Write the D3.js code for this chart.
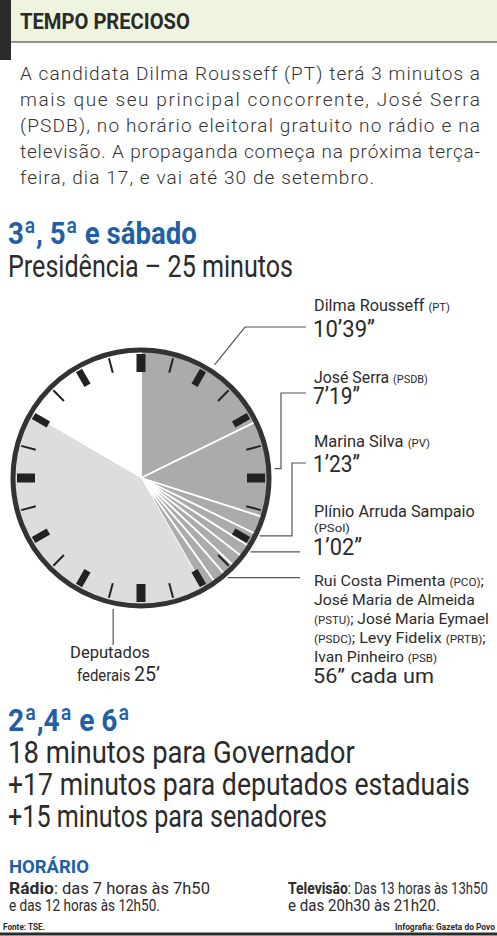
<!DOCTYPE html>
<html><head><meta charset="utf-8">
<script src="https://cdn.jsdelivr.net/npm/d3@7"></script>
<style>
body{margin:0;background:#fff;}
text{font-family:"Roboto","Noto Sans",sans-serif;}
</style></head>
<body>
<svg id="chart" width="497" height="936"></svg>
<script>
// minutes on the clock face (60 min = 3600 s)
var sliceNames = ['Dilma', 'Serra', 'Marina', 'Plínio', 'Rui', 'JoséMaria', 'Eymael', 'Levy', 'Ivan', 'Deputados', 'Livre'];
var sliceSeconds = [639, 439, 83, 62, 56, 56, 56, 56, 56, 1500, 597];
var sliceKind = ['cand', 'cand', 'cand', 'cand', 'cand', 'cand', 'cand', 'cand', 'cand', 'dep', 'free'];
var paragraph = [
  'A candidata Dilma Rousseff (PT) terá 3 minutos a',
  'mais que seu principal concorrente, José Serra',
  '(PSDB), no horário eleitoral gratuito no rádio e na',
  'televisão. A propaganda começa na próxima terça-',
  'feira, dia 17, e vai até 30 de setembro.'
];
var bottomLines = ['18 minutos para Governador', '+17 minutos para deputados estaduais', '+15 minutos para senadores'];
var bottomWidths = [347, 462, 319];

var svg = d3.select('#chart');
var blue = '#1f5fa6', dark = '#2b2b2b';

// squeeze a text horizontally to a target width (condensed look)
function fit(t, x, y, w) {
  var len = t.node().getComputedTextLength();
  t.attr('x', 0).attr('y', 0)
    .attr('transform', 'translate(' + x + ',' + y + ') scale(' + (w / len) + ',1)');
  return t;
}
function label(x, y, parts, size, w, weight, color) {
  var t = svg.append('text').attr('font-size', size).attr('fill', color || dark);
  if (weight) t.attr('font-weight', weight);
  parts.forEach(function(pt) {
    var s = t.append('tspan').text(pt[0]);
    if (pt[1]) s.attr('font-size', pt[1]);
    if (pt[2]) s.attr('font-weight', pt[2]);
  });
  return fit(t, x, y, w);
}

// header
svg.append('rect').attr('x', 0).attr('y', 0).attr('width', 497).attr('height', 42).attr('fill', '#eef4de');
svg.append('rect').attr('x', 0).attr('y', 0).attr('width', 11).attr('height', 60).attr('fill', dark);
svg.append('line').attr('x1', 11).attr('x2', 497).attr('y1', 42).attr('y2', 42).attr('stroke', dark).attr('stroke-width', 1.2);
label(20, 29, [['TEMPO PRECIOSO']], 22, 170, 'bold');

svg.append('g').selectAll('text').data(paragraph).enter().append('text')
  .attr('x', 20).attr('y', function(d, i) { return 80 + i * 26; })
  .attr('font-size', 19).attr('fill', '#333').attr('font-family', 'Open Sans').attr('font-weight', 300)
  .attr('textLength', function(d, i) { return i == 4 ? 354 : 460; })
  .text(function(d) { return d; });

label(8, 244, [['3ª, 5ª e sábado']], 32, 189, 'bold', blue);
label(8, 277, [['Presidência – 25 minutos']], 32, 285);

// clock pie
var cx = 141, cy = 478, r = 128;
var total = d3.sum(sliceSeconds);
var angle = d3.scaleLinear().domain([0, total]).range([0, 2 * Math.PI]);
var data = sliceSeconds.map(function(v, i) { return { name: sliceNames[i], value: v, kind: sliceKind[i] }; });
var pie = d3.pie().value(function(d) { return d.value; }).sort(null);
var arcs = pie(data);
var arc = d3.arc().innerRadius(0).outerRadius(r);
var fill = { cand: '#aaabad', dep: '#dcddde', free: '#ffffff' };

var g = svg.append('g').attr('transform', 'translate(' + cx + ',' + cy + ')');
g.selectAll('path.slice').data(arcs).enter().append('path')
  .attr('class', 'slice').attr('d', arc)
  .attr('fill', function(d) { return fill[d.data.kind]; })
  .attr('stroke', function(d) { return d.data.kind == 'cand' ? '#fff' : 'none'; })
  .attr('stroke-width', 1.8);

// ticks every 2.5 minutes
var ticks = d3.range(24);
function tickIn(d) { return r - (d % 6 == 0 ? 22 : d % 2 == 0 ? 21 : 19); }
g.selectAll('line.tick').data(ticks).enter().append('line')
  .attr('class', 'tick')
  .attr('x1', function(d) { return Math.sin(d * Math.PI / 12) * tickIn(d); })
  .attr('y1', function(d) { return -Math.cos(d * Math.PI / 12) * tickIn(d); })
  .attr('x2', function(d) { return Math.sin(d * Math.PI / 12) * (r - 4); })
  .attr('y2', function(d) { return -Math.cos(d * Math.PI / 12) * (r - 4); })
  .attr('stroke', '#222')
  .attr('stroke-width', function(d) { return d % 6 == 0 ? 9 : d % 2 == 0 ? 7 : 2; });

g.append('circle').attr('r', r).attr('fill', 'none').attr('stroke', '#333').attr('stroke-width', 5);

// leader lines
function edge(a, rr) { return [cx + Math.sin(a) * rr, cy - Math.cos(a) * rr]; }
function leader(pts) {
  svg.append('path').attr('d', d3.line()(pts)).attr('fill', 'none').attr('stroke', '#555').attr('stroke-width', 1.2);
}
var p = edge(angle(330), r + 7); leader([p, [245, 327], [306, 327]]);
p = edge(angle(860), r + 6); leader([p, [281, p[1]], [281, 393], [306, 393]]);
p = edge(angle(1160), r + 4); leader([p, [292, p[1]], [292, 463], [306, 463]]);
p = edge(angle(1240), r + 4); leader([p, [300, p[1]]]);
p = edge(angle(1390), r + 4); leader([p, [300, p[1]]]);
p = edge(angle(1920), r + 6); leader([p, [p[0], 645]]);

// labels
var sm = 11;
label(314, 311, [['Dilma Rousseff '], ['(PT)', sm]], 16, 136);
label(313, 337, [['10’39”']], 23, 62);
label(314, 383, [['José Serra '], ['(PSDB)', sm]], 16, 114);
label(313, 404, [['7’19”']], 23, 47);
label(314, 447, [['Marina Silva '], ['(PV)', sm]], 16, 116);
label(313, 472, [['1’23”']], 23, 47);
label(314, 517, [['Plínio Arruda Sampaio']], 16, 161);
label(314, 532, [['(PSol)']], sm, 36);
label(313, 555, [['1’02”']], 23, 49);
label(314, 586, [['Rui Costa Pimenta '], ['(PCO)', sm], [';']], 15, 170);
label(314, 605, [['José Maria de Almeida']], 15, 161);
label(314, 624, [['(PSTU)', sm], ['; José Maria Eymael']], 15, 175);
label(314, 643, [['(PSDC)', sm], ['; Levy Fidelix '], ['(PRTB)', sm], [';']], 15, 172);
label(314, 662, [['Ivan Pinheiro '], ['(PSB)', sm]], 15, 123);
label(313, 683, [['56” cada um']], 21, 121);
label(70, 658, [['Deputados']], 16, 80);
label(77, 681, [['federais '], ['25’', 21]], 16, 83);

// bottom
label(8, 731, [['2ª,4ª e 6ª']], 32, 122, 'bold', blue);
svg.append('g').selectAll('text').data(bottomLines).enter().append('text')
  .attr('font-size', 31).attr('fill', dark).text(function(d) { return d; })
  .each(function(d, i) { fit(d3.select(this), 8, 763 + i * 32, bottomWidths[i]); });

label(9, 873, [['HORÁRIO']], 19, 80, 'bold', blue);
label(9, 894, [['Rádio', 17, 'bold'], [': das 7 horas às 7h50']], 16, 201);
label(9, 911, [['e das 12 horas às 12h50.']], 16, 151);
label(288, 894, [['Televisão', 17, 'bold'], [': Das 13 horas às 13h50']], 16, 200);
label(288, 911, [['e das 20h30 às 21h20.']], 16, 152);
label(3, 930, [['Fonte: TSE.']], 9, 42, 'bold');
label(395, 930, [['Infografia: Gazeta do Povo']], 9, 100, 'bold');
svg.append('line').attr('x1', 0).attr('x2', 497).attr('y1', 934).attr('y2', 934).attr('stroke', dark).attr('stroke-width', 3);
</script>
</body></html>
